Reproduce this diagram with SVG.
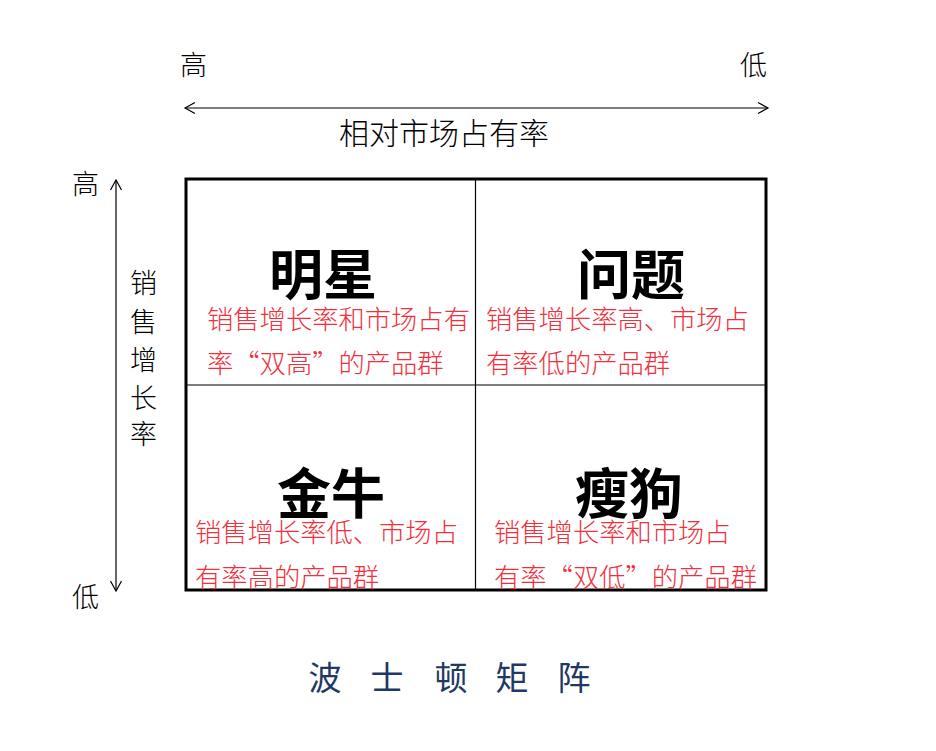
<svg xmlns="http://www.w3.org/2000/svg" width="936" height="751" viewBox="0 0 936 751">
<style>
.ax{font-family:"Noto Sans CJK SC","Noto Sans",sans-serif;font-size:27px;fill:#000;font-weight:300}
.hd{font-family:"Noto Sans CJK SC","Noto Sans",sans-serif;font-size:54px;font-weight:bold;fill:#000;text-anchor:middle}
.rd{font-family:"Noto Sans CJK SC","Noto Sans",sans-serif;font-size:26.3px;fill:#f0303c;font-weight:300}
.tt{font-family:"Noto Sans CJK SC","Noto Sans",sans-serif;font-size:33px;fill:#1f3864;text-anchor:middle}
.thin{stroke:#000;stroke-width:1.2;fill:none}
</style>
<defs>
<marker id="arr" markerUnits="userSpaceOnUse" markerWidth="14" markerHeight="14" refX="11" refY="7" orient="auto-start-reverse">
<path d="M1,1.5 L11,7 L1,12.5" fill="none" stroke="#000" stroke-width="1.2"/>
</marker>
</defs>
<rect width="936" height="751" fill="#fff"/>
<g id="connectors">
<line x1="185" y1="108" x2="768" y2="108" class="thin" marker-start="url(#arr)" marker-end="url(#arr)"/>
<line x1="116" y1="180" x2="116" y2="591" class="thin" marker-start="url(#arr)" marker-end="url(#arr)"/>
</g>
<g id="axis-labels">
<text class="ax" x="180" y="75">高</text>
<text class="ax" x="740" y="75">低</text>
<text class="ax" x="444" y="144" text-anchor="middle" style="font-size:30px">相对市场占有率</text>
<text class="ax" x="72" y="194">高</text>
<text class="ax" x="72" y="607">低</text>
<text class="ax" x="130" y="293">销</text>
<text class="ax" x="130" y="332">售</text>
<text class="ax" x="130" y="370">增</text>
<text class="ax" x="130" y="408">长</text>
<text class="ax" x="130" y="444">率</text>
</g>
<g id="matrix">
<rect x="186" y="179" width="580" height="411" fill="none" stroke="#000" stroke-width="3"/>
<line x1="475.5" y1="179" x2="475.5" y2="590" stroke="#000" stroke-width="1.2"/>
<line x1="186" y1="385" x2="766" y2="385" stroke="#000" stroke-width="1.2"/>
</g>
<g id="star">
<text class="hd" x="323" y="295">明星</text>
<text class="rd" x="207" y="329">销售增长率和市场占有</text>
<text class="rd" x="207" y="373">率“双高”的产品群</text>
</g>
<g id="question">
<text class="hd" x="631" y="295">问题</text>
<text class="rd" x="486" y="329">销售增长率高、市场占</text>
<text class="rd" x="486" y="373">有率低的产品群</text>
</g>
<g id="cashcow">
<text class="hd" x="331" y="514">金牛</text>
<text class="rd" x="195" y="542">销售增长率低、市场占</text>
<text class="rd" x="195" y="587">有率高的产品群</text>
</g>
<g id="dog">
<text class="hd" x="629" y="514">瘦狗</text>
<text class="rd" x="494" y="542">销售增长率和市场占</text>
<text class="rd" x="494" y="587">有率“双低”的产品群</text>
</g>
<g id="title">
<text class="tt" x="325" y="690">波</text>
<text class="tt" x="387" y="690">士</text>
<text class="tt" x="451" y="690">顿</text>
<text class="tt" x="512" y="690">矩</text>
<text class="tt" x="574" y="690">阵</text>
</g>
</svg>
